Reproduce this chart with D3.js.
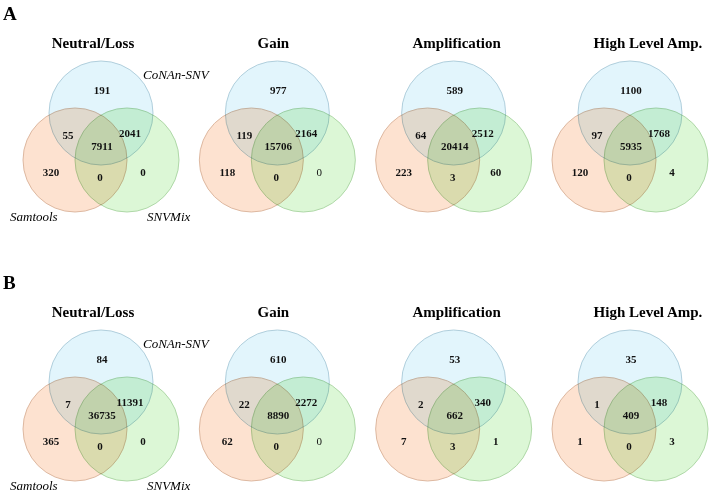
<!DOCTYPE html>
<html>
<head>
<meta charset="utf-8">
<script src="https://cdn.jsdelivr.net/npm/d3@7"></script>
<style>
  body { margin: 0; background: #fff; }
  .circle { mix-blend-mode: multiply; }
</style>
</head>
<body>
<script>
// Panel titles, set names and the row letters
const titles = ['Neutral/Loss', 'Gain', 'Amplification', 'High Level Amp.'];
const setNames = ['CoNAn-SNV', 'Samtools', 'SNVMix'];
const rowLabels = ['A', 'B'];

// Region order: CoNAn only, CoNAn+Samtools, CoNAn+SNVMix, all three,
// Samtools only, Samtools+SNVMix, SNVMix only
const regions = ['top', 'topLeft', 'topRight', 'center', 'left', 'leftRight', 'right'];
const countsA = [
    [191, 55, 2041, 7911, 320, 0, 0],
    [977, 119, 2164, 15706, 118, 0, 0],
    [589, 64, 2512, 20414, 223, 3, 60],
    [1100, 97, 1768, 5935, 120, 0, 4]
];
const countsB = [
    [84, 7, 11391, 36735, 365, 0, 0],
    [610, 22, 2272, 8890, 62, 0, 0],
    [53, 2, 340, 662, 7, 3, 1],
    [35, 1, 148, 409, 1, 0, 3]
];
const rowCounts = [countsA, countsB];

const width = 711;
const height = 494;
const r = 52;
const rowOffset = 269;

const svg = d3.select('body')
    .append('svg')
    .attr('width', width)
    .attr('height', height)
    .style('font-family', '"Liberation Serif", "Times New Roman", serif');

const xPanel = d3.scalePoint()
    .domain(titles)
    .range([101, 630]);

const fills = d3.scaleOrdinal()
    .domain(setNames)
    .range(['#e2f5fc', '#fde2d0', '#dcf7d6']);

const strokes = d3.scaleOrdinal()
    .domain(setNames)
    .range(['#a9cad8', '#d9b29a', '#a8d4a0']);

// circle centres relative to the panel anchor (top circle centre)
const circleOffset = {
    'CoNAn-SNV': [0, 0],
    'Samtools': [-26, 47],
    'SNVMix': [26, 47]
};

// where each count sits relative to the top circle centre
const labelOffset = {
    top: [1, -23],
    topLeft: [-33, 22],
    topRight: [29, 20],
    center: [1, 33],
    left: [-50, 59],
    leftRight: [-1, 64],
    right: [42, 59]
};

// title anchor shift from the venn centre
const titleShift = [-8, -4, 3, 18];

rowCounts.forEach((counts, ri) => {
    const dy = ri * rowOffset;
    const cyTop = 113 + dy;

    svg.append('text')
        .attr('x', 3)
        .attr('y', 20 + dy)
        .attr('font-size', 19)
        .attr('font-weight', 'bold')
        .text(rowLabels[ri]);

    titles.forEach((title, pi) => {
        const cx = xPanel(title);
        const g = svg.append('g');

        g.append('text')
            .attr('x', cx + titleShift[pi])
            .attr('y', 48 + dy)
            .attr('text-anchor', 'middle')
            .attr('font-size', 15)
            .attr('font-weight', 'bold')
            .text(title);

        g.selectAll('.circle')
            .data(setNames)
            .enter()
            .append('circle')
            .attr('class', 'circle')
            .attr('cx', d => cx + circleOffset[d][0])
            .attr('cy', d => cyTop + circleOffset[d][1])
            .attr('r', r)
            .attr('fill', d => fills(d))
            .attr('stroke', d => strokes(d))
            .attr('stroke-width', 0.9);

        g.selectAll('.count')
            .data(counts[pi])
            .enter()
            .append('text')
            .attr('class', 'count')
            .attr('x', (d, i) => cx + labelOffset[regions[i]][0])
            .attr('y', (d, i) => cyTop + labelOffset[regions[i]][1])
            .attr('dy', '0.35em')
            .attr('text-anchor', 'middle')
            .attr('font-size', 11)
            // the SNVMix-only zero in the Gain panels is printed in regular weight
            .attr('font-weight', (d, i) => (pi === 1 && regions[i] === 'right') ? 'normal' : 'bold')
            .attr('fill', '#111')
            .text(d => d);

        // set names only on the first venn of each row
        if (pi === 0) {
            g.append('text')
                .attr('x', 143)
                .attr('y', 79 + dy)
                .attr('font-size', 13)
                .attr('font-style', 'italic')
                .text(setNames[0]);
            g.append('text')
                .attr('x', 10)
                .attr('y', 221 + dy)
                .attr('font-size', 13)
                .attr('font-style', 'italic')
                .text(setNames[1]);
            g.append('text')
                .attr('x', 147)
                .attr('y', 221 + dy)
                .attr('font-size', 13)
                .attr('font-style', 'italic')
                .text(setNames[2]);
        }
    });
});
</script>
</body>
</html>
